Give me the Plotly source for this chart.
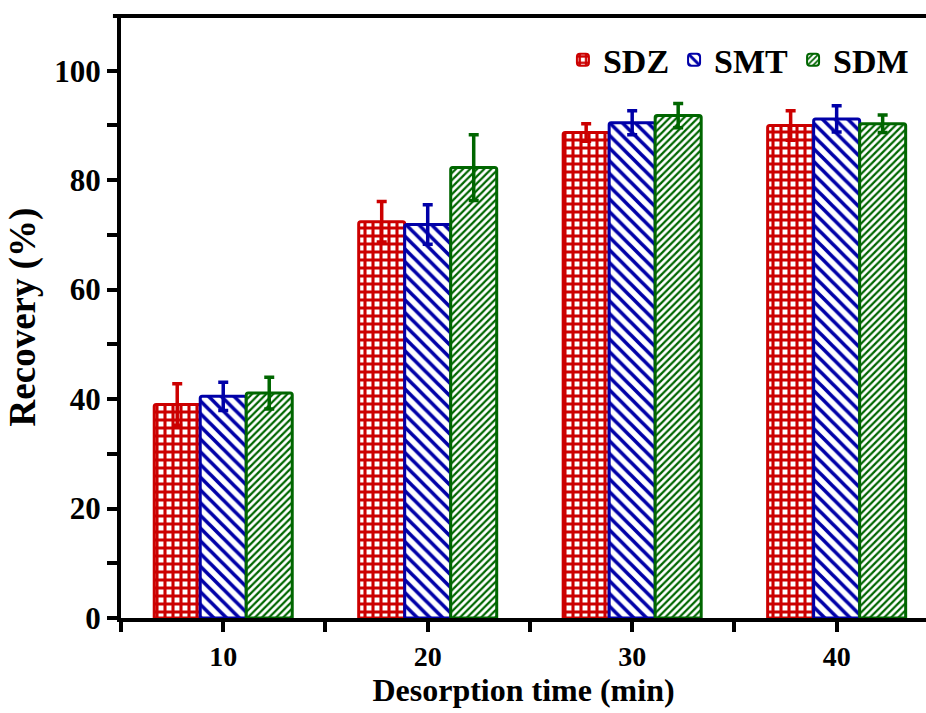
import plotly.graph_objects as go

times = [10, 20, 30, 40]
series = ["SDZ", "SMT", "SDM"]
sdz = [39.0, 72.4, 88.7, 90.0]
sdz_err = [3.8, 3.7, 1.6, 2.7]
smt = [40.5, 71.9, 90.5, 91.2]
smt_err = [2.6, 3.6, 2.2, 2.4]
sdm = [41.1, 82.3, 91.8, 90.3]
sdm_err = [2.9, 6.0, 2.2, 1.6]

colors = ["#CC0000", "#0000A8", "#006600"]
shapes = ["+", "\\", "/"]
sizes = [8, 9, 5]
solid = [0.62, 0.4, 0.45]

fig = go.Figure()
for name, vals, errs, c, sh, sz, so in zip(series, [sdz, smt, sdm], [sdz_err, smt_err, sdm_err],
                                          colors, shapes, sizes, solid):
    fig.add_trace(go.Bar(
        x=times, y=vals, name=name,
        marker=dict(color="white", line=dict(color=c, width=3), cornerradius=2,
                    pattern=dict(shape=sh, fgcolor=c, bgcolor="white", size=sz, solidity=so,
                                 fgopacity=1, fillmode="replace")),
        error_y=dict(type="data", array=errs, visible=True, color=c, thickness=3.5, width=5),
    ))

font = "Liberation Serif, Times New Roman, serif"
fig.update_layout(
    width=926, height=713,
    margin=dict(l=121, r=0, t=16, b=95),
    plot_bgcolor="white", paper_bgcolor="white",
    barmode="group", bargap=0.325, bargroupgap=0,
    font=dict(family=font, size=24, color="black"),
    legend=dict(orientation="h", x=0.985, y=0.975, xanchor="right", yanchor="top",
                font=dict(size=34, family=font, weight="bold"), bgcolor="rgba(0,0,0,0)",
                itemsizing="constant", itemwidth=30, tracegroupgap=0),
    xaxis=dict(range=[5, 44.37], tickvals=times, ticktext=[str(t) for t in times],
               ticks="outside", ticklen=10, tickwidth=4, tickcolor="black",
               showline=True, linewidth=4, linecolor="black", mirror=False,
               showgrid=False, zeroline=False,
               minor=dict(tickvals=[5, 15, 25, 35], ticks="outside", ticklen=10, tickwidth=4, tickcolor="black"),
               tickfont=dict(size=28, family=font, weight="bold"),
               title=dict(text="Desorption time (min)", font=dict(size=32, family=font, weight="bold"), standoff=2)),
    yaxis=dict(range=[0, 110], tickvals=[0, 20, 40, 60, 80, 100],
               ticks="outside", ticklen=10, tickwidth=4, tickcolor="black",
               showline=True, linewidth=4, linecolor="black",
               showgrid=False, zeroline=False,
               minor=dict(tickvals=[10, 30, 50, 70, 90], ticks="outside", ticklen=10, tickwidth=4, tickcolor="black"),
               tickfont=dict(size=31, family=font, weight="bold"),
               title=dict(text="Recovery (%)", font=dict(size=37, family=font, weight="bold"), standoff=8)),
)
fig.add_shape(type="line", xref="paper", yref="paper", x0=-0.01, x1=1, y0=1, y1=1,
              line=dict(color="black", width=4))
fig.write_html("out.html")
